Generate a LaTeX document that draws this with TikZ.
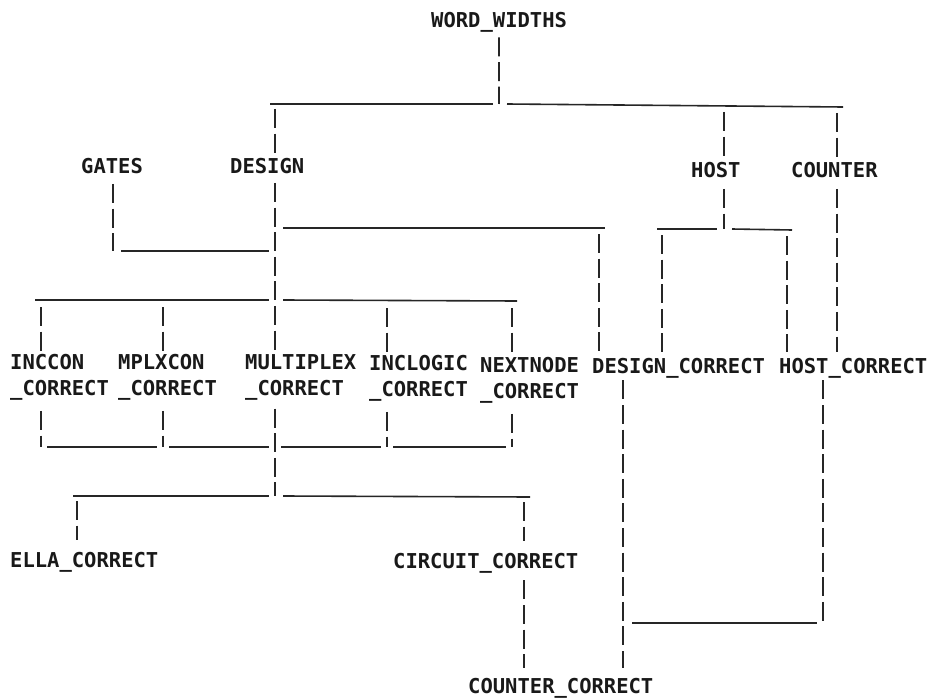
\documentclass[tikz,border=0pt]{standalone}
\usepackage{fontspec}
\usepackage{tikz}
\usetikzlibrary{calc}
\newfontfamily\lpfont{DejaVu Sans Mono}

\begin{document}
\begin{tikzpicture}[x=1pt, y=-1pt,
        lbl/.style={anchor=north west, inner sep=0pt, align=left, text=black!90,
            font=\lpfont\bfseries\fontsize{20.5}{26.5}\selectfont},
        vbar/.style={draw=black!85, line width=1.8pt, dash pattern=on 19pt off 5.6pt},
        hbar/.style={draw=black!85, line width=1.6pt}]
                \useasboundingbox[fill=white] (0,0) rectangle (929,698);
                \node[lbl] (ww) at (431,12) {WORD\_WIDTHS};
                \node[lbl] (gates) at (81,158) {GATES};
                \node[lbl] (design) at (230,158) {DESIGN};
                \node[lbl] (host) at (691,162) {HOST};
                \node[lbl] (counter) at (791,162) {COUNTER};
                \node[lbl] (inccon) at (10,354) {INCCON\\\_CORRECT};
                \node[lbl] (mplxcon) at (118,354) {MPLXCON\\\_CORRECT};
                \node[lbl] (multiplex) at (245,354) {MULTIPLEX\\\_CORRECT};
                \node[lbl] (inclogic) at (369,355) {INCLOGIC\\\_CORRECT};
                \node[lbl] (nextnode) at (480,357) {NEXTNODE\\\_CORRECT};
                \node[lbl] (designc) at (592,358) {DESIGN\_CORRECT};
                \node[lbl] (hostc) at (779,358) {HOST\_CORRECT};
                \node[lbl] (ella) at (10,552) {ELLA\_CORRECT};
                \node[lbl] (circuit) at (393,553) {CIRCUIT\_CORRECT};
                \node[lbl] (counterc) at (468,678) {COUNTER\_CORRECT};
                \coordinate (jWW) at (499,104);
                \coordinate (jDes) at (275,104);
                \coordinate (jHost) at (724,106);
                \coordinate (jCnt) at (837,107);
                \coordinate (jGat) at (113,251);
                \coordinate (jDC) at (599,228);
                \coordinate (jH) at (724,229);
                \coordinate (cHl) at (662,229);
                \coordinate (cHr) at (787,230);
                \coordinate (jR) at (275,300);
                \coordinate (cInc) at (41,300);
                \coordinate (cMpx) at (163,300);
                \coordinate (cInl) at (387,301);
                \coordinate (cNxt) at (512,301);
                \coordinate (bInc) at (41,447);
                \coordinate (bMpx) at (163,447);
                \coordinate (bMul) at (275,447);
                \coordinate (bInl) at (387,447);
                \coordinate (bNxt) at (512,447);
                \coordinate (jM) at (275,496);
                \coordinate (cEl) at (77,496);
                \coordinate (cCir) at (524,497);
                \coordinate (cDcb) at (623,623);
                \coordinate (jHc) at (823,623);
                \draw[vbar, shorten <=5pt] (ww.south) -- (jWW);
                \draw[hbar] ([xshift=-5pt]jDes) -- ([xshift=-6pt]jWW);
                \draw[hbar] ([xshift=8pt]jWW) -- ([xshift=6pt]jCnt);
                \draw[vbar, shorten <=5pt, shorten >=5pt] (jDes) -- (design.north -| jDes);
                \draw[vbar, shorten <=6pt, shorten >=5pt] (jHost) -- (host.north -| jHost);
                \draw[vbar, shorten <=6pt, shorten >=5pt] (jCnt) -- (counter.north -| jCnt);
                \draw[vbar, shorten <=10pt] (gates.south -| jGat) -- (jGat);
                \draw[hbar] ([xshift=8pt]jGat) -- ([xshift=-6pt]jGat -| jDes);
                \draw[vbar, shorten <=9pt, shorten >=3pt] (design.south -| jDes) -- (multiplex.north -| jDes);
                \draw[hbar] ([xshift=8pt]jDC -| jDes) -- ([xshift=6pt]jDC);
                \draw[vbar, shorten <=6pt, shorten >=6pt] (jDC) -- (designc.north -| jDC);
                \draw[hbar] ([xshift=-6pt]cInc) -- ([xshift=-6pt]jR);
                \draw[hbar] ([xshift=8pt]jR) -- ([xshift=5pt]cNxt);
                \draw[vbar, shorten <=7pt, shorten >=2pt] (cInc) -- (inccon.north -| cInc);
                \draw[vbar, shorten <=7pt, shorten >=2pt] (cMpx) -- (mplxcon.north -| cMpx);
                \draw[vbar, shorten <=7pt, shorten >=2pt] (cInl) -- (inclogic.north -| cInl);
                \draw[vbar, shorten <=7pt, shorten >=2pt] (cNxt) -- (nextnode.north -| cNxt);
                \draw[vbar, shorten <=11pt] (host.south -| jH) -- (jH);
                \draw[hbar] ([xshift=-5pt]cHl) -- ([xshift=-7pt]jH);
                \draw[hbar] ([xshift=8pt]jH) -- ([xshift=5pt]cHr);
                \draw[vbar, shorten <=6pt, shorten >=6pt] (cHl) -- (designc.north -| cHl);
                \draw[vbar, shorten <=6pt, shorten >=6pt] (cHr) -- (hostc.north -| cHr);
                \draw[vbar, shorten <=11pt, shorten >=6pt] (counter.south -| jCnt) -- (hostc.north -| jCnt);
                \draw[vbar, shorten <=10pt] (inccon.south -| bInc) -- (bInc);
                \draw[vbar, shorten <=10pt] (mplxcon.south -| bMpx) -- (bMpx);
                \draw[vbar, shorten <=10pt] (inclogic.south -| bInl) -- (bInl);
                \draw[vbar, shorten <=10pt] (nextnode.south -| bNxt) -- (bNxt);
                \draw[hbar] ([xshift=6pt]bInc) -- ([xshift=-6pt]bMpx);
                \draw[hbar] ([xshift=6pt]bMpx) -- ([xshift=-6pt]bMul);
                \draw[hbar] ([xshift=6pt]bMul) -- ([xshift=-6pt]bInl);
                \draw[hbar] ([xshift=6pt]bInl) -- ([xshift=-6pt]bNxt);
                \draw[vbar, shorten <=8pt] (multiplex.south -| jM) -- (jM);
                \draw[hbar] ([xshift=-4pt]cEl) -- ([xshift=-6pt]jM);
                \draw[hbar] ([xshift=8pt]jM) -- ([xshift=6pt]cCir);
                \draw[vbar, shorten <=5pt, shorten >=12pt] (cEl) -- (ella.north -| cEl);
                \draw[vbar, shorten <=5pt, shorten >=12pt] (cCir) -- (circuit.north -| cCir);
                \draw[vbar, shorten <=7pt, shorten >=10pt] (circuit.south -| cCir) -- (counterc.north -| cCir);
                \draw[vbar, shorten <=2pt, shorten >=10pt] (designc.south -| cDcb) -- (counterc.north -| cDcb);
                \draw[vbar, shorten <=2pt] (hostc.south -| jHc) -- (jHc);
                \draw[hbar] ([xshift=9pt]cDcb) -- ([xshift=-6pt]jHc);
            \end{tikzpicture}
\end{document}
